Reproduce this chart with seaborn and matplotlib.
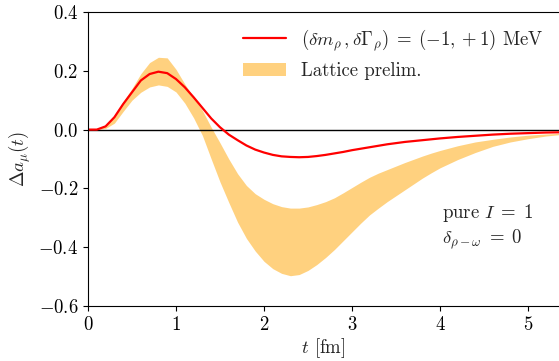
import matplotlib
import matplotlib.pyplot as plt
import numpy as np
import pandas as pd
import seaborn as sns

matplotlib.use("Agg")

# ---------------------------------------------------
# Data
# ---------------------------------------------------
t_fm = [0.0, 0.1, 0.2, 0.3, 0.4, 0.5, 0.6, 0.7, 0.8, 0.9,
        1.0, 1.1, 1.2, 1.3, 1.4, 1.5, 1.6, 1.7, 1.8, 1.9,
        2.0, 2.1, 2.2, 2.3, 2.4, 2.5, 2.6, 2.7, 2.8, 2.9,
        3.0, 3.1, 3.2, 3.3, 3.4, 3.5, 3.6, 3.7, 3.8, 3.9,
        4.0, 4.2, 4.4, 4.6, 4.8, 5.0, 5.2, 5.4]

model_shift = [0.0, 0.0, 0.011, 0.042, 0.087, 0.127, 0.167, 0.189, 0.197, 0.192,
               0.172, 0.144, 0.110, 0.074, 0.038, 0.008, -0.017, -0.036, -0.054, -0.068,
               -0.078, -0.086, -0.091, -0.093, -0.094, -0.093, -0.090, -0.086, -0.081, -0.076,
               -0.070, -0.065, -0.060, -0.055, -0.050, -0.046, -0.042, -0.039, -0.036, -0.033,
               -0.030, -0.025, -0.021, -0.017, -0.014, -0.012, -0.010, -0.009]

lattice_lo = [0.0, 0.0, 0.004, 0.022, 0.062, 0.100, 0.127, 0.145, 0.152, 0.147,
              0.128, 0.090, 0.040, -0.020, -0.100, -0.178, -0.248, -0.315, -0.370, -0.413,
              -0.448, -0.473, -0.489, -0.497, -0.493, -0.479, -0.459, -0.435, -0.408, -0.378,
              -0.348, -0.318, -0.290, -0.267, -0.245, -0.225, -0.205, -0.185, -0.165, -0.147,
              -0.130, -0.102, -0.078, -0.057, -0.042, -0.031, -0.022, -0.016]

lattice_hi = [0.0, 0.0, 0.012, 0.045, 0.095, 0.140, 0.190, 0.228, 0.246, 0.244,
              0.205, 0.155, 0.110, 0.065, 0.008, -0.045, -0.100, -0.150, -0.190, -0.218,
              -0.237, -0.252, -0.262, -0.267, -0.267, -0.263, -0.255, -0.245, -0.232, -0.215,
              -0.197, -0.179, -0.162, -0.148, -0.136, -0.124, -0.112, -0.101, -0.090, -0.080,
              -0.071, -0.055, -0.042, -0.033, -0.025, -0.019, -0.015, -0.012]

y_ticks = [-0.6, -0.4, -0.2, 0.0, 0.2, 0.4]
x_ticks = [0, 1, 2, 3, 4, 5]

# ---------------------------------------------------
# Style
# ---------------------------------------------------
sns.set_style("ticks")
plt.rcParams["font.family"] = "serif"
plt.rcParams["font.serif"] = ["cmr10", "DejaVu Serif"]
plt.rcParams["mathtext.fontset"] = "cm"
plt.rcParams["axes.formatter.use_mathtext"] = True
plt.rcParams["font.size"] = 13.5
plt.rcParams["axes.edgecolor"] = "black"
plt.rcParams["xtick.color"] = "black"
plt.rcParams["ytick.color"] = "black"

df = pd.DataFrame({"t": t_fm, "shift": model_shift,
                   "lo": lattice_lo, "hi": lattice_hi})

fig = plt.figure(figsize=(5.59, 3.61), dpi=100)
ax = fig.add_axes([88 / 559, 55 / 361, 471 / 559, 294 / 361])

sns.lineplot(data=df, x="t", y="shift", color="red", lw=1.6, ax=ax,
             label=r"$(\delta m_\rho\,,\delta\Gamma_\rho)\;=\;(-1,+1)$ MeV")
ax.fill_between(df["t"], df["lo"], df["hi"], color="orange", alpha=0.5,
                lw=0, label="Lattice prelim.")
ax.axhline(0, color="black", lw=1.0, zorder=1.5)

ax.set_xlim(0, 471 / 88)
ax.set_ylim(-0.6, 0.4)
ax.set_xticks(x_ticks)
ax.set_yticks(y_ticks)
ax.set_xlabel(r"$t$ [fm]", labelpad=2)
ax.set_ylabel(r"$\Delta a_\mu(t)$", labelpad=4)
ax.spines["right"].set_visible(False)

ax.text(4.02, -0.33, r"pure $I\;=\;1$" + "\n" + r"$\delta_{\rho-\omega}\;=\;0$",
        ha="left", va="center", linespacing=1.25)

ax.legend(loc="upper right", frameon=False, handlelength=2.3,
          borderaxespad=0.4)

fig.savefig("out.png", dpi=100)
